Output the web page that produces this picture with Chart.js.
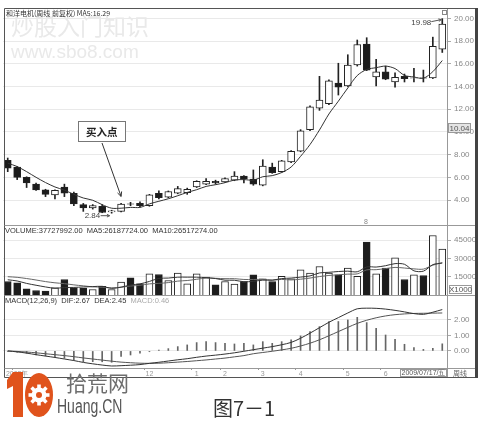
<!DOCTYPE html>
<html>
<head>
  <meta charset="utf-8">
  <title>图7-1 周线</title>
  <script src="https://cdn.jsdelivr.net/npm/chart.js@4.4.1/dist/chart.umd.min.js"></script>
  <style>
    body { margin: 0; background: #fff; }
    canvas { display: block; }
  </style>
</head>
<body>
  <canvas id="chart" width="488" height="421"></canvas>
<script>
  // weekly candles, 47 weeks up to 2009/07/17
  const weeks = ['', '2008年', '', '', '', '', '', '', '', '', '', '', '', '', '', '12',
    '', '', '', '', '1', '', '', '2', '', '', '', '3', '', '', '', '4', '', '', '', '',
    '5', '', '', '', '6', '', '', '', '', '', ''];

  const opens = [7.5, 6.9, 6.0, 5.4, 4.9, 4.45, 5.15, 4.6, 3.6, 3.3, 3.45, 2.95, 3.0, 3.67, 3.7, 3.5,
    4.6, 4.25, 4.6, 4.65, 5.15, 5.4, 5.65, 5.6, 5.75, 6.1, 5.85, 5.3, 6.9, 6.5, 7.35, 8.3,
    10.2, 12.1, 12.5, 14.3, 14.05, 15.9, 17.75, 14.85, 15.3, 14.4, 14.9, 14.73, 14.77, 14.75, 17.3];
  const highs = [7.7, 6.95, 6.05, 5.5, 4.95, 4.9, 5.4, 4.7, 3.7, 3.6, 3.6, 3.1, 3.7, 3.8, 3.85, 4.5,
    4.8, 4.8, 5.2, 5.05, 5.7, 5.9, 5.75, 5.95, 6.5, 6.15, 6.65, 7.55, 7.25, 7.5, 8.35, 10.2,
    12.3, 14.9, 14.6, 16.05, 16.8, 18.1, 18.3, 16.4, 15.8, 15.2, 15.1, 15.6, 15.45, 18.35, 19.98];
  const lows = [6.5, 5.8, 5.1, 4.85, 4.3, 4.1, 4.3, 3.5, 3.0, 3.2, 2.88, 2.84, 2.95, 3.5, 3.4, 3.45,
    4.1, 4.2, 4.55, 4.5, 5.1, 5.35, 5.4, 5.55, 5.7, 5.5, 5.3, 5.25, 6.35, 6.45, 7.3, 8.25,
    10.1, 11.9, 12.4, 13.25, 14.0, 15.8, 15.4, 14.05, 14.6, 13.95, 14.4, 14.4, 14.4, 14.7, 17.0];
  const closes = [6.8, 6.0, 5.5, 4.9, 4.5, 4.85, 4.6, 3.65, 3.3, 3.5, 2.9, 3.05, 3.65, 3.63, 3.5, 4.45,
    4.2, 4.75, 5.0, 4.95, 5.65, 5.65, 5.5, 5.9, 6.1, 5.85, 5.4, 7.0, 6.4, 7.45, 8.3, 10.1,
    12.2, 12.8, 14.5, 13.95, 15.9, 17.7, 15.45, 15.3, 14.65, 14.8, 14.7, 14.77, 14.74, 17.55, 19.5];
  const priceMA5 = [7.25, 6.95, 6.5, 6.0, 5.54, 5.15, 4.87, 4.5, 4.18, 3.98, 3.59, 3.28, 3.28, 3.35, 3.35, 3.66,
    3.89, 4.11, 4.38, 4.67, 4.91, 5.2, 5.35, 5.53, 5.76, 5.8, 5.75, 6.05, 6.15, 6.42, 6.91, 7.85,
    8.89, 10.17, 11.58, 12.71, 13.87, 14.97, 15.5, 15.66, 15.8, 15.58, 14.98, 14.84, 14.73, 15.31, 16.29];

  // volume in thousands (X1000)
  const volumes = [11100, 10000, 5100, 3700, 3150, 5900, 12700, 5600, 5600, 4500, 7200, 4500, 10500, 14100, 9200, 17400,
    16800, 11900, 17900, 9200, 17400, 14600, 8400, 11100, 9000, 11100, 16500, 13200, 11100, 15400, 13200, 20600,
    17900, 23400, 17900, 16500, 22000, 15400, 43300, 17400, 22000, 30500, 12700, 16500, 16000, 48800, 37728];
  const volMA5 = [12500, 11500, 9500, 8000, 6610, 5570, 6110, 6210, 6590, 6860, 7120, 5480, 6460, 8160, 9100, 11140,
    13600, 13880, 14640, 14640, 14640, 14200, 13500, 12140, 12100, 10840, 11220, 12180, 12180, 13460, 13880, 14700,
    15640, 18100, 18600, 19260, 19540, 19040, 23020, 22920, 24020, 25720, 25180, 19820, 19540, 24900, 26188];
  const volMA10 = [15000, 14500, 13500, 12300, 11000, 10000, 9300, 8300, 7500, 6735, 6345, 5795, 6335, 7375, 7980, 9130,
    9540, 10170, 11400, 11870, 12890, 13900, 13690, 13390, 13370, 12740, 12710, 12840, 12160, 12780, 12360, 12960,
    13910, 15140, 16030, 16570, 17120, 17340, 20560, 20760, 21640, 22630, 22110, 21420, 21230, 24460, 26517];

  // MACD(12,26,9)
  const dif = [0.0, -0.06, -0.14, -0.24, -0.33, -0.42, -0.52, -0.62, -0.74, -0.83, -0.91, -0.97, -0.95, -0.92, -0.88, -0.80,
    -0.73, -0.65, -0.57, -0.50, -0.41, -0.33, -0.27, -0.20, -0.12, -0.02, 0.08, 0.18, 0.28, 0.40, 0.55, 0.82,
    1.15, 1.50, 1.85, 2.15, 2.45, 2.72, 2.76, 2.75, 2.70, 2.62, 2.52, 2.41, 2.36, 2.50, 2.67];
  const dea = [0.0, -0.03, -0.07, -0.12, -0.18, -0.24, -0.30, -0.37, -0.45, -0.52, -0.59, -0.66, -0.72, -0.76, -0.79, -0.80,
    -0.79, -0.76, -0.72, -0.68, -0.63, -0.58, -0.52, -0.46, -0.38, -0.30, -0.18, -0.10, -0.02, 0.07, 0.17, 0.32,
    0.50, 0.72, 0.98, 1.25, 1.52, 1.78, 1.98, 2.14, 2.26, 2.34, 2.39, 2.42, 2.43, 2.44, 2.45];
  const macd = [-0.03, -0.08, -0.15, -0.26, -0.32, -0.40, -0.47, -0.58, -0.69, -0.69, -0.70, -0.73, -0.36, -0.26, -0.15, -0.05,
    0.05, 0.15, 0.28, 0.39, 0.54, 0.60, 0.54, 0.49, 0.45, 0.49, 0.39, 0.60, 0.49, 0.60, 0.71, 0.97,
    1.25, 1.57, 1.90, 1.90, 2.00, 2.17, 1.83, 1.46, 1.03, 0.75, 0.43, 0.22, 0.10, 0.17, 0.46];

  const priceTicks = [4, 6, 8, 10, 12, 14, 16, 18, 20];
  const volTicks = [15000, 30000, 45000];
  const macdTicks = [0, 1, 2];

  const isUp = closes.map((c, i) => c >= opens[i]);
  const fillUpDown = isUp.map(u => u ? '#ffffff' : '#1c1c1c');

  const axisFont = { size: 8, family: 'Liberation Sans' };
  const gridOpt = { color: '#e9e9e9', tickColor: '#aaa', tickLength: 4 };

  function arrow(ctx, x1, y1, x2, y2, head) {
    ctx.beginPath();
    ctx.moveTo(x1, y1);
    ctx.lineTo(x2, y2);
    ctx.stroke();
    const a = Math.atan2(y2 - y1, x2 - x1);
    ctx.beginPath();
    ctx.moveTo(x2 - head * Math.cos(a - 0.45), y2 - head * Math.sin(a - 0.45));
    ctx.lineTo(x2, y2);
    ctx.lineTo(x2 - head * Math.cos(a + 0.45), y2 - head * Math.sin(a + 0.45));
    ctx.stroke();
  }

  function boxText(ctx, x, y, w, h, text, fill) {
    ctx.fillStyle = fill;
    ctx.fillRect(x, y, w, h);
    ctx.strokeStyle = '#999';
    ctx.strokeRect(x + 0.5, y + 0.5, w - 1, h - 1);
    ctx.fillStyle = '#555';
    ctx.textAlign = 'center';
    ctx.textBaseline = 'middle';
    ctx.fillText(text, x + w / 2, y + h / 2 + 0.5);
    ctx.textAlign = 'left';
    ctx.textBaseline = 'alphabetic';
  }

  const decor = {
    id: 'decor',
    beforeDraw(chart) {
      const ctx = chart.ctx;
      ctx.save();
      ctx.fillStyle = '#fff';
      ctx.fillRect(0, 0, chart.width, chart.height);
      // watermark
      ctx.fillStyle = '#e9e9e9';
      ctx.font = '23px "Noto Sans CJK SC"';
      ctx.fillText('炒股入门知识', 11, 35);
      ctx.font = '19px "Liberation Sans"';
      ctx.fillText('www.sbo8.com', 11, 58);
      ctx.restore();
    },
    afterDraw(chart) {
      const ctx = chart.ctx;
      const x = chart.scales.x, yp = chart.scales.yPrice, yv = chart.scales.yVol, ym = chart.scales.yMacd;
      ctx.save();

      // frame and pane separators
      ctx.strokeStyle = '#555';
      ctx.lineWidth = 1;
      ctx.beginPath();
      ctx.moveTo(4.5, yp.top - 0.5); ctx.lineTo(4.5, x.bottom + 0.5);
      ctx.moveTo(4.5, yp.top - 0.5); ctx.lineTo(476, yp.top - 0.5);
      ctx.moveTo(4.5, x.bottom + 0.5); ctx.lineTo(476, x.bottom + 0.5);
      ctx.stroke();
      ctx.strokeStyle = '#999';
      ctx.beginPath();
      ctx.moveTo(x.right + 0.5, yp.top); ctx.lineTo(x.right + 0.5, x.bottom);
      [yv.top, ym.top, x.top].forEach(v => {
        ctx.moveTo(4.5, Math.round(v) + 0.5); ctx.lineTo(476, Math.round(v) + 0.5);
      });
      ctx.stroke();
      ctx.fillStyle = '#444';
      ctx.fillRect(475, yp.top - 1, 3, x.bottom - yp.top + 2);

      // pane headers
      ctx.fillStyle = '#333';
      ctx.font = '7px "Noto Sans CJK SC"';
      ctx.fillText('和洋电机(周线 前复权) MA5:16.29', 6, yp.top + 6.5);
      ctx.font = '7.5px "Liberation Sans"';
      ctx.fillText('VOLUME:37727992.00  MA5:26187724.00  MA10:26517274.00', 5, yv.top + 8);
      const mh = 'MACD(12,26,9)  DIF:2.67  DEA:2.45  ';
      ctx.fillText(mh, 5, ym.top + 8);
      ctx.fillStyle = '#aaa';
      ctx.fillText('MACD:0.46', 5 + ctx.measureText(mh).width, ym.top + 8);

      // small icon top right
      ctx.strokeStyle = '#888';
      ctx.strokeRect(442.5, 10.5, 4, 4);

      // low / high labels
      ctx.strokeStyle = '#555';
      ctx.fillStyle = '#444';
      ctx.font = '8px "Liberation Sans"';
      const xl = x.getPixelForValue(11), yl = yp.getPixelForValue(lows[11]);
      ctx.fillText('2.84', xl - 27, yl + 5);
      arrow(ctx, xl - 11, yl + 2.5, xl - 2, yl + 2.5, 3);
      const xh = x.getPixelForValue(46), yh = yp.getPixelForValue(highs[46]);
      ctx.fillText('19.98', xh - 31, yh + 6);
      arrow(ctx, xh - 11, yh + 3, xh - 1, yh + 1, 3);

      // buy point callout
      ctx.fillStyle = '#fff';
      ctx.fillRect(78, 121, 48, 21);
      ctx.strokeStyle = '#777';
      ctx.strokeRect(78.5, 121.5, 47, 20);
      ctx.fillStyle = '#222';
      ctx.font = 'bold 10.5px "Noto Sans CJK SC"';
      ctx.fillText('买入点', 86, 135.5);
      ctx.strokeStyle = '#333';
      const xb = x.getPixelForValue(12), yb = yp.getPixelForValue(highs[12]);
      arrow(ctx, 102, 143, xb, yb - 7, 5);

      // small mark in price pane
      ctx.fillStyle = '#888';
      ctx.font = '7px "Liberation Sans"';
      ctx.fillText('8', 364, 224);

      // axis boxes
      ctx.font = '8px "Liberation Sans"';
      boxText(ctx, 448, 123, 23, 10, '10.04', '#e4e4e4');
      boxText(ctx, 449, 285, 23, 9, 'X1000', '#fff');
      ctx.font = '7px "Liberation Sans"';
      boxText(ctx, 400, 369, 47, 8, '2009/07/17/五', '#fff');
      ctx.fillStyle = '#666';
      ctx.font = '7px "Noto Sans CJK SC"';
      ctx.fillText('周线', 453, 376);

      // site logo
      ctx.fillStyle = '#e0531c';
      ctx.beginPath();
      ctx.moveTo(13, 372); ctx.lineTo(23, 372); ctx.lineTo(23, 417); ctx.lineTo(13, 417);
      ctx.lineTo(13, 386); ctx.lineTo(7, 389); ctx.lineTo(7, 380); ctx.closePath();
      ctx.fill();
      ctx.beginPath();
      ctx.ellipse(39, 395, 14, 22, 0, 0, Math.PI * 2);
      ctx.fill();
      ctx.fillStyle = '#fff';
      ctx.beginPath();
      ctx.arc(39, 395, 7.5, 0, Math.PI * 2);
      ctx.fill();
      for (let i = 0; i < 8; i++) {
        ctx.save();
        ctx.translate(39, 395);
        ctx.rotate(i * Math.PI / 4);
        ctx.fillRect(-1.8, -10.5, 3.6, 4);
        ctx.restore();
      }
      ctx.fillStyle = '#e0531c';
      ctx.beginPath();
      ctx.arc(39, 395, 3, 0, Math.PI * 2);
      ctx.fill();
      ctx.fillStyle = '#6e6e6e';
      ctx.font = '21px "Noto Sans CJK SC"';
      ctx.fillText('拾荒网', 66, 391);
      ctx.save();
      ctx.translate(57, 413);
      ctx.scale(0.7, 1);
      ctx.fillStyle = '#555';
      ctx.font = '20px "Liberation Sans"';
      ctx.fillText('Huang.CN', 0, 0);
      ctx.restore();

      // caption
      ctx.fillStyle = '#333';
      ctx.font = '20px "Noto Sans CJK SC"';
      ctx.fillText('图7－1', 213, 416);
      ctx.restore();
    }
  };

  const data = {
    labels: weeks,
    datasets: [
      {
        type: 'bar', label: 'wick', yAxisID: 'yPrice', order: 6, grouped: false,
        data: highs.map((h, i) => [lows[i], h]),
        backgroundColor: '#222', barThickness: 1,
      },
      {
        type: 'bar', label: 'body', yAxisID: 'yPrice', order: 5, grouped: false,
        data: opens.map((o, i) => [o, closes[i]]),
        backgroundColor: fillUpDown, borderColor: '#222', borderWidth: 1,
        borderSkipped: false, barThickness: 7,
      },
      {
        type: 'line', label: 'MA5', yAxisID: 'yPrice', order: 1,
        data: priceMA5, borderColor: '#333', borderWidth: 1, pointRadius: 0, tension: 0.3,
      },
      {
        type: 'bar', label: 'VOLUME', yAxisID: 'yVol', order: 5, grouped: false,
        data: volumes, backgroundColor: fillUpDown, borderColor: '#222', borderWidth: 1,
        borderSkipped: 'start', barThickness: 7,
      },
      {
        type: 'line', label: 'VMA5', yAxisID: 'yVol', order: 1,
        data: volMA5, borderColor: '#333', borderWidth: 1, pointRadius: 0, tension: 0.3,
      },
      {
        type: 'line', label: 'VMA10', yAxisID: 'yVol', order: 1,
        data: volMA10, borderColor: '#666', borderWidth: 1, pointRadius: 0, tension: 0.3,
      },
      {
        type: 'bar', label: 'MACD', yAxisID: 'yMacd', order: 5, grouped: false,
        data: macd, backgroundColor: '#666', barThickness: 1,
      },
      {
        type: 'line', label: 'DIF', yAxisID: 'yMacd', order: 1,
        data: dif, borderColor: '#333', borderWidth: 1, pointRadius: 0, tension: 0.3,
      },
      {
        type: 'line', label: 'DEA', yAxisID: 'yMacd', order: 1,
        data: dea, borderColor: '#555', borderWidth: 1, pointRadius: 0, tension: 0.3,
      },
    ]
  };

  const options = {
    responsive: false,
    animation: false,
    events: [],
    layout: { padding: { left: 3, top: 9, right: 12, bottom: 44 } },
    plugins: { legend: { display: false }, tooltip: { enabled: false } },
    scales: {
      x: {
        type: 'category',
        offset: true,
        grid: {
          drawOnChartArea: false, tickLength: 2,
          color: c => (c.tick && c.tick.label) ? '#999' : 'rgba(0,0,0,0)'
        },
        border: { display: false },
        ticks: { autoSkip: false, maxRotation: 0, padding: 0, font: { size: 7, family: 'Liberation Sans' }, color: '#999' },
        afterFit: s => { s.height = 9; }
      },
      yPrice: {
        position: 'right', stack: 'pane', stackWeight: 216,
        min: 1.8, max: 20.83,
        afterBuildTicks: s => { s.ticks = priceTicks.map(v => ({ value: v })); },
        ticks: { callback: v => Number(v).toFixed(2), font: axisFont, color: '#888', padding: 3 },
        grid: gridOpt, border: { display: false },
        afterFit: s => { s.width = 29; }
      },
      yVol: {
        position: 'right', stack: 'pane', stackWeight: 70,
        min: 0, max: 57400,
        afterBuildTicks: s => { s.ticks = volTicks.map(v => ({ value: v })); },
        ticks: { callback: v => String(v), font: axisFont, color: '#888', padding: 3 },
        grid: gridOpt, border: { display: false },
        afterFit: s => { s.width = 29; }
      },
      yMacd: {
        position: 'right', stack: 'pane', stackWeight: 73,
        min: -1.1, max: 3.61,
        afterBuildTicks: s => { s.ticks = macdTicks.map(v => ({ value: v })); },
        ticks: { callback: v => Number(v).toFixed(2), font: axisFont, color: '#888', padding: 3 },
        grid: gridOpt, border: { display: false },
        afterFit: s => { s.width = 29; }
      }
    }
  };

  const chart = new Chart(document.getElementById('chart'), {
    data: data,
    options: options,
    plugins: [decor],
  });
</script>
</body>
</html>
